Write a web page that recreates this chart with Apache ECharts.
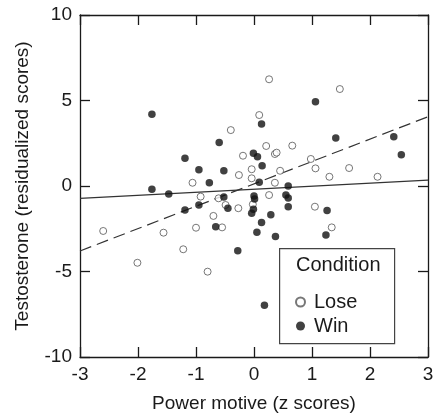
<!DOCTYPE html>
<html>
<head>
<meta charset="utf-8">
<script src="https://cdn.jsdelivr.net/npm/echarts@6/dist/echarts.min.js"></script>
<style>
  html, body { margin: 0; padding: 0; background: #fff; }
  #chart { width: 433px; height: 414px; }
</style>
</head>
<body>
<div id="chart"></div>
<script>
// Power motive (z) vs. residualized testosterone.
const LOSE_POINTS = [
  [-0.40, 3.27], [-0.19, 1.77], [-0.26, 0.64], [0.26, 6.24], [1.48, 5.67],
  [0.09, 4.15], [0.21, 2.34], [0.36, 1.87], [0.39, 1.95], [0.66, 2.36],
  [0.98, 1.58], [-0.04, 0.98], [1.06, 1.03], [1.64, 1.05], [0.45, 0.89],
  [1.30, 0.54], [2.13, 0.54], [-0.04, 0.45], [0.36, 0.19], [0.26, -0.53],
  [-0.61, -0.72], [-0.49, -1.11], [-0.27, -1.30], [-0.02, -1.07], [1.05, -1.21],
  [-0.70, -1.75], [-0.55, -2.42], [-0.80, -5.01], [-1.06, 0.19], [-0.92, -0.62],
  [-2.60, -2.63], [-1.56, -2.73], [-1.00, -2.44], [-1.22, -3.70], [-2.01, -4.49],
  [1.34, -2.42],
];
const WIN_POINTS = [
  [-1.76, 4.20], [-0.60, 2.55], [-1.19, 1.62], [-0.95, 0.95], [-0.52, 0.89],
  [1.06, 4.93], [0.13, 3.63], [1.41, 2.81], [2.41, 2.88], [2.54, 1.83],
  [-0.01, 1.91], [0.06, 1.71], [0.14, 1.19], [-1.76, -0.19], [-1.47, -0.47],
  [-0.77, 0.19], [-1.19, -1.40], [-0.95, -1.11], [-0.52, -0.64], [-0.45, -1.30],
  [-0.66, -2.38], [-0.28, -3.78], [0.09, 0.22], [0.59, 0.00], [0.00, -0.58],
  [0.01, -0.76], [0.55, -0.53], [0.59, -0.70], [0.59, -1.21], [-0.01, -1.36],
  [-0.04, -1.60], [0.13, -2.13], [0.29, -1.68], [0.05, -2.71], [0.37, -2.96],
  [1.26, -1.44], [1.24, -2.87], [0.18, -6.98],
];
// Fit lines: solid = lose, dashed = win
const LOSE_FIT = [[-3, -0.72], [3, 0.34]];
const WIN_FIT = [[-3, -3.80], [3, 4.05]];

const X_TICKS = { min: -3, max: 3, interval: 1 };
const Y_TICKS = { min: -10, max: 10, interval: 5 };

const FONT = 'Liberation Sans, Arial, sans-serif';
const INK = '#1a1a1a';

const frameAxis = (extra) => Object.assign({
  axisLine: { show: true, onZero: false, lineStyle: { color: INK, width: 1.3 } },
  axisTick: { show: true, inside: true, length: 10, lineStyle: { color: INK, width: 1.3 } },
  splitLine: { show: false },
}, extra);

const chart = echarts.init(document.getElementById('chart'));
chart.setOption({
  animation: false,
  backgroundColor: '#fff',
  textStyle: { fontFamily: FONT },
  grid: { left: 80, right: 5, top: 15, bottom: 57, containLabel: false, outerBoundsMode: 'none' },
  xAxis: [
    frameAxis({
      type: 'value', ...X_TICKS, position: 'bottom',
      name: 'Power motive (z scores)', nameLocation: 'middle', nameGap: 37,
      nameTextStyle: { fontSize: 19, color: INK, fontFamily: FONT },
      axisLabel: { fontSize: 19, color: INK, margin: 8, fontFamily: FONT },
    }),
    frameAxis({
      type: 'value', ...X_TICKS, position: 'top',
      axisLabel: { show: false },
    }),
  ],
  yAxis: [
    frameAxis({
      type: 'value', ...Y_TICKS, position: 'left',
      name: 'Testosterone (residualized scores)', nameLocation: 'middle', nameGap: 48,
      nameTextStyle: { fontSize: 19, color: INK, fontFamily: FONT },
      axisLabel: { fontSize: 19, color: INK, margin: 8, fontFamily: FONT },
    }),
    frameAxis({
      type: 'value', ...Y_TICKS, position: 'right',
      axisLabel: { show: false },
    }),
  ],
  legend: {
    left: 290, top: 287, orient: 'vertical', z: 60,
    itemWidth: 9, itemHeight: 9, itemGap: 4,
    data: ['Lose', 'Win'],
    textStyle: { fontSize: 20, color: INK, fontFamily: FONT, lineHeight: 20, padding: [0, 0, 0, 4] },
  },
  graphic: [
    {
      type: 'rect', left: 279, top: 248, z: 5,
      shape: { width: 115, height: 95 },
      style: { fill: '#fff', stroke: '#444', lineWidth: 1.2 },
    },
    {
      type: 'text', left: 296, top: 255, z: 6,
      style: { text: 'Condition', fontSize: 20, fill: INK, fontFamily: FONT },
    },
  ],
  series: [
    {
      name: 'LoseFit', type: 'line', data: LOSE_FIT, showSymbol: false, silent: true,
      lineStyle: { color: '#333', width: 1.2 }, z: 1,
    },
    {
      name: 'WinFit', type: 'line', data: WIN_FIT, showSymbol: false, silent: true,
      lineStyle: { color: '#333', width: 1.2, type: [12, 6] }, z: 1,
    },
    {
      name: 'Lose', type: 'scatter', data: LOSE_POINTS, symbol: 'circle', symbolSize: 7,
      itemStyle: { color: '#fff', borderColor: '#555', borderWidth: 1 }, z: 3,
    },
    {
      name: 'Win', type: 'scatter', data: WIN_POINTS, symbol: 'circle', symbolSize: 7.5,
      itemStyle: { color: '#111' }, z: 4,
    },
  ],
});
</script>
</body>
</html>
